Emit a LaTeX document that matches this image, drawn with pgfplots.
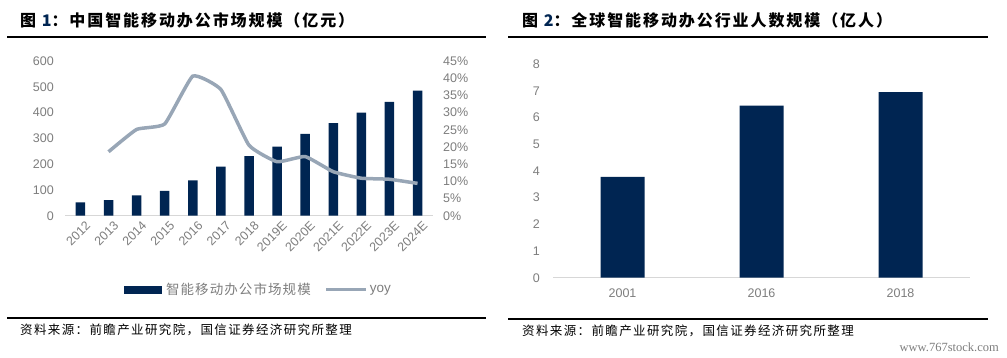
\documentclass[border=0pt]{standalone}
\usepackage{pgfplots}
\pgfplotsset{compat=1.18}
\usepackage{fontspec}
\setmainfont{Liberation Sans}
\newfontfamily\cjk{Noto Sans CJK SC}
\newfontfamily\cjkt{Noto Sans CJK SC}[LetterSpace=12]
\newfontfamily\cjksp{Noto Sans CJK SC}[LetterSpace=11]
\newfontfamily\cjkl{Noto Sans CJK SC}[LetterSpace=8]
\newfontfamily\wmfont{Liberation Serif}
\definecolor{navy}{RGB}{0,37,82}
\definecolor{yoygray}{RGB}{152,166,182}
\definecolor{tickgray}{RGB}{125,125,125}
\definecolor{axgray}{RGB}{215,215,215}
\begin{document}
\begin{tikzpicture}
\path[use as bounding box] (0,0) rectangle (1007pt,357pt);
% titles and rules
\node[anchor=west, inner sep=0] at (20pt,337pt) {\cjkt\bfseries\fontsize{16}{18}\selectfont 图 {\color{navy}1}：中国智能移动办公市场规模（亿元）};
\node[anchor=west, inner sep=0] at (522pt,337pt) {\cjkt\bfseries\fontsize{16}{18}\selectfont 图 {\color{navy}2}：全球智能移动办公行业人数规模（亿人）};
\draw[line width=1.2pt] (7pt,320pt) -- (486pt,320pt);
\draw[line width=1.2pt] (508pt,320pt) -- (988pt,320pt);
\draw[line width=1.2pt] (7pt,39pt) -- (486pt,39pt);
\draw[line width=1.2pt] (508pt,38pt) -- (988pt,38pt);
\node[anchor=west, inner sep=0] at (20pt,27pt) {\cjksp\fontsize{12.5}{14}\selectfont 资料来源：前瞻产业研究院，国信证券经济研究所整理};
\node[anchor=west, inner sep=0] at (522pt,26pt) {\cjksp\fontsize{12.5}{14}\selectfont 资料来源：前瞻产业研究院，国信证券经济研究所整理};
\node[anchor=east, inner sep=0, text=tickgray] at (999pt,10pt) {\wmfont\fontsize{12.5}{14}\selectfont www.767stock.com};

% left chart: bars
\begin{axis}[
  at={(65pt,141.3pt)}, anchor=south west, scale only axis,
  width=368pt, height=154.7pt,
  xmin=-0.55, xmax=12.55, ymin=0, ymax=600,
  ytick={0,100,...,600},
  xtick={0,...,12},
  xticklabels={2012,2013,2014,2015,2016,2017,2018,2019E,2020E,2021E,2022E,2023E,2024E},
  axis y line*=left, axis x line*=bottom,
  y axis line style={draw=none}, x axis line style={draw=axgray, line width=1pt},
  major tick length=0pt,
  /pgf/number format/assume math mode=true,
  tick label style={text=tickgray, font=\fontsize{12.5}{14}\selectfont},
  yticklabel style={anchor=east, inner sep=0pt, xshift=-11pt},
  xticklabel style={rotate=45, anchor=east, inner sep=0pt, yshift=-11pt, xshift=0pt},
  ybar, bar width=9.5pt,
]
\addplot[fill=navy, draw=none] coordinates {
(0,52) (1,60) (2,79) (3,96) (4,137) (5,190) (6,231) (7,268) (8,317) (9,359) (10,400) (11,441) (12,485)};
\end{axis}

% left chart: yoy line
\begin{axis}[
  at={(65pt,141.3pt)}, anchor=south west, scale only axis,
  width=368pt, height=154.7pt,
  xmin=-0.55, xmax=12.55, ymin=0, ymax=45,
  ytick={0,5,...,45},
  yticklabel={\pgfmathprintnumber{\tick}\%},
  axis y line*=right, axis x line=none,
  y axis line style={draw=none},
  major tick length=0pt,
  /pgf/number format/assume math mode=true,
  tick label style={text=tickgray, font=\fontsize{12.5}{14}\selectfont},
  yticklabel style={anchor=west, inner sep=0pt, xshift=10pt},
  legend style={at={(0.525,-0.48)}, anchor=center, draw=none, fill=none,
    legend columns=2, text=tickgray, font=\fontsize{13.5}{15}\selectfont,
    /tikz/every even column/.append style={column sep=12pt}},
  legend cell align=left,
]
\addlegendimage{legend image code/.code={\fill[navy] (0pt,-3.5pt) rectangle (37pt,3.5pt);}}
\addlegendentry{\hspace{3pt}\cjkl 智能移动办公市场规模}
\addplot[yoygray, line width=3.5pt, smooth, tension=0.25,
  legend image code/.code={\draw[yoygray, line width=3pt] (0pt,0pt) -- (40pt,0pt);}]
coordinates {
(1,18.6) (2,25.1) (3,26.7) (4,40.6) (5,36.7) (6,20.5) (7,15.7) (8,17.2) (9,12.8) (10,10.9) (11,10.6) (12,9.4)};
\addlegendentry{yoy}
\end{axis}

% right chart
\begin{axis}[
  at={(553pt,79.3pt)}, anchor=south west, scale only axis,
  width=417pt, height=213.7pt,
  xmin=-0.5, xmax=2.5, ymin=0, ymax=8,
  ytick={0,1,...,8},
  xtick={0,1,2}, xticklabels={2001,2016,2018},
  axis y line*=left, axis x line*=bottom,
  y axis line style={draw=none}, x axis line style={draw=axgray, line width=1pt},
  major tick length=0pt,
  /pgf/number format/assume math mode=true,
  tick label style={text=tickgray, font=\fontsize{12.5}{14}\selectfont},
  yticklabel style={anchor=east, inner sep=0pt, xshift=-13pt},
  xticklabel style={anchor=north, inner sep=0pt, yshift=-11pt},
  ybar, bar width=44pt,
]
\addplot[fill=navy, draw=none] coordinates {(0,3.77) (1,6.44) (2,6.95)};
\end{axis}
\end{tikzpicture}
\end{document}
